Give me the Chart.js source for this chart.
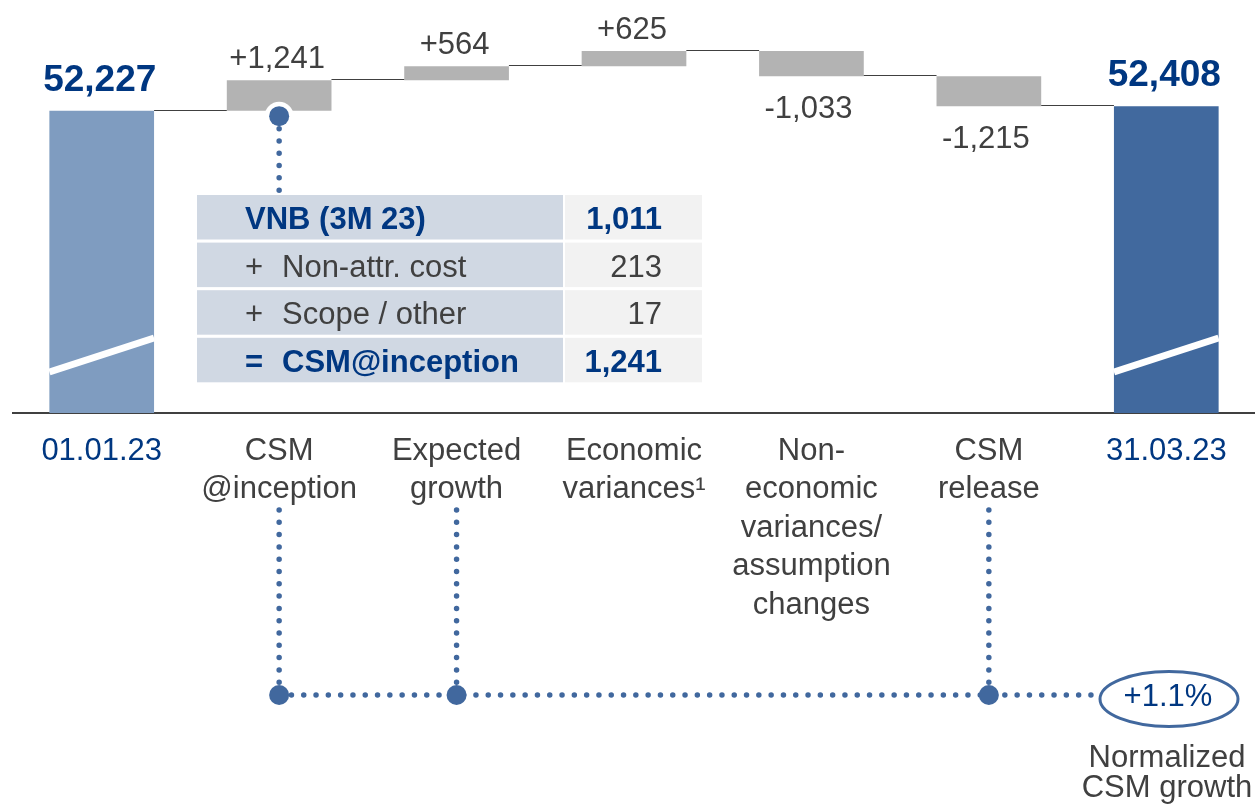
<!DOCTYPE html>
<html>
<head>
<meta charset="utf-8">
<script src="https://cdn.jsdelivr.net/npm/chart.js@4.4.1/dist/chart.umd.min.js"></script>
<style>
  html, body { margin: 0; padding: 0; background: #fff; }
  #wrap { width: 1255px; height: 807px; position: relative; }
</style>
</head>
<body>
<div id="wrap"><canvas id="csmChart"></canvas></div>
<script>
const categories = [
  ['01.01.23'],
  ['CSM', '@inception'],
  ['Expected', 'growth'],
  ['Economic', 'variances¹'],
  ['Non-', 'economic', 'variances/', 'assumption', 'changes'],
  ['CSM', 'release'],
  ['31.03.23']
];
const startValue = 52227;
const endValue = 52408;
const changes = [1241, 564, 625, -1033, -1215];
const valueLabels = ['52,227', '+1,241', '+564', '+625', '-1,033', '-1,215', '52,408'];

const tableSigns = ['', '+', '+', '='];
const tableLabels = ['VNB (3M 23)', 'Non-attr. cost', 'Scope / other', 'CSM@inception'];
const tableValues = ['1,011', '213', '17', '1,241'];
const tableBold = [true, false, false, true];

const growthValue = '+1.1%';
const growthLabel = ['Normalized', 'CSM growth'];
const growthLinks = [1, 2, 5]; // categories that make up normalized growth

// broken axis: bars of the totals start at the axis minimum
const axisMin = 39920;
const axisMax = 56730;

const FONT = "'Liberation Sans', Arial, sans-serif";
const BLUE_TEXT = '#003781';
const GREY_TEXT = '#404040';
const DOT_BLUE = '#41689e';

// build floating bars for the waterfall
const bars = [[axisMin, startValue]];
const levels = [startValue];
let running = startValue;
changes.forEach(c => {
  bars.push([running, running + c]);
  running += c;
  levels.push(running);
});
bars.push([axisMin, endValue]);
levels.push(endValue);

const barColors = bars.map((b, i) => i === 0 ? '#7f9cc0' : (i === bars.length - 1 ? '#41699e' : '#b3b3b3'));

function dotted(ctx, x1, y1, x2, y2) {
  ctx.save();
  ctx.strokeStyle = DOT_BLUE;
  ctx.lineWidth = 5.5;
  ctx.lineCap = 'round';
  ctx.setLineDash([0, 12.3]);
  ctx.beginPath();
  ctx.moveTo(x1, y1);
  ctx.lineTo(x2, y2);
  ctx.stroke();
  ctx.restore();
}

function dot(ctx, x, y, r, color) {
  ctx.fillStyle = color;
  ctx.beginPath();
  ctx.arc(x, y, r, 0, Math.PI * 2);
  ctx.fill();
}

const decorations = {
  id: 'decorations',
  afterDatasetsDraw(chart) {
    const ctx = chart.ctx;
    const els = chart.getDatasetMeta(0).data;
    const y = chart.scales.y;
    const last = els.length - 1;
    ctx.save();

    // axis break stripes on the total bars
    [0, last].forEach(i => {
      const el = els[i];
      const l = el.x - el.width / 2, r = el.x + el.width / 2;
      ctx.strokeStyle = '#ffffff';
      ctx.lineWidth = 7;
      ctx.beginPath();
      ctx.moveTo(l, el.base - 41);
      ctx.lineTo(r, el.base - 75);
      ctx.stroke();
    });

    // connector lines
    ctx.strokeStyle = GREY_TEXT;
    ctx.lineWidth = 1;
    for (let i = 0; i < last; i++) {
      const py = Math.round(y.getPixelForValue(levels[i])) - 0.5;
      ctx.beginPath();
      ctx.moveTo(els[i].x + els[i].width / 2, py);
      ctx.lineTo(els[i + 1].x - els[i + 1].width / 2, py);
      ctx.stroke();
    }

    // value labels
    ctx.textAlign = 'center';
    ctx.textBaseline = 'alphabetic';
    els.forEach((el, i) => {
      const top = Math.min(el.y, el.base);
      const bottom = Math.max(el.y, el.base);
      if (i === 0 || i === last) {
        ctx.font = 'bold 37px ' + FONT;
        ctx.fillStyle = BLUE_TEXT;
        ctx.fillText(valueLabels[i], el.x - 2, top - 20);
      } else {
        ctx.font = '31px ' + FONT;
        ctx.fillStyle = GREY_TEXT;
        if (changes[i - 1] >= 0) ctx.fillText(valueLabels[i], el.x - 2, top - 12);
        else ctx.fillText(valueLabels[i], el.x - 3, bottom + 42);
      }
    });

    // marker under CSM@inception bar with link to the table
    const inc = els[1];
    const incBottom = Math.max(inc.y, inc.base);
    dot(ctx, inc.x, incBottom + 5.5, 14.5, '#ffffff');
    dot(ctx, inc.x, incBottom + 5.5, 10, DOT_BLUE);
    dotted(ctx, inc.x, incBottom + 18, inc.x, 192);

    // breakdown table
    const tx0 = 197, tx1 = 563, tx2 = 565, tx3 = 702;
    tableLabels.forEach((label, r) => {
      const rt = 195 + r * 47.6;
      ctx.fillStyle = '#d0d8e3';
      ctx.fillRect(tx0, rt, tx1 - tx0, 44.5);
      ctx.fillStyle = '#f2f2f2';
      ctx.fillRect(tx2, rt, tx3 - tx2, 44.5);
      const bold = tableBold[r];
      ctx.font = (bold ? 'bold ' : '') + '31px ' + FONT;
      ctx.fillStyle = bold ? BLUE_TEXT : GREY_TEXT;
      ctx.textAlign = 'left';
      const base = rt + 34;
      if (tableSigns[r]) {
        ctx.fillText(tableSigns[r], 245, base);
        ctx.fillText(label, 282, base);
      } else {
        ctx.fillText(label, 245, base);
      }
      ctx.textAlign = 'right';
      ctx.fillText(tableValues[r], 662, base);
    });

    // normalized growth links
    const lineY = 695;
    const ex = 1169, ey = 699, rx = 69, ry = 27.5;
    growthLinks.forEach(i => dotted(ctx, els[i].x, 510, els[i].x, lineY));
    dotted(ctx, els[growthLinks[0]].x, lineY, ex - rx, lineY);
    growthLinks.forEach(i => dot(ctx, els[i].x, lineY, 10, DOT_BLUE));

    ctx.strokeStyle = DOT_BLUE;
    ctx.lineWidth = 3;
    ctx.beginPath();
    ctx.ellipse(ex, ey, rx, ry, 0, 0, Math.PI * 2);
    ctx.fillStyle = '#ffffff';
    ctx.fill();
    ctx.stroke();

    ctx.textAlign = 'center';
    ctx.font = '31px ' + FONT;
    ctx.fillStyle = BLUE_TEXT;
    ctx.fillText(growthValue, ex - 1, 706);
    ctx.fillStyle = GREY_TEXT;
    ctx.fillText(growthLabel[0], 1167, 767);
    ctx.fillText(growthLabel[1], 1167, 797);

    ctx.restore();
  }
};

const ctx = document.getElementById('csmChart').getContext('2d');
const csmChart = new Chart(ctx, {
  type: 'bar',
  data: {
    labels: categories,
    datasets: [{
      data: bars,
      backgroundColor: barColors,
      barPercentage: 0.59,
      categoryPercentage: 1,
      borderWidth: 0
    }]
  },
  options: {
    responsive: true,
    maintainAspectRatio: false,
    animation: false,
    layout: { padding: { left: 13, right: 0, top: 0, bottom: 0 } },
    plugins: {
      legend: { display: false },
      tooltip: { enabled: false }
    },
    scales: {
      x: {
        grid: { display: false, drawTicks: false },
        border: { display: true, color: GREY_TEXT, width: 2 },
        ticks: {
          color: c => (c.index === 0 || c.index === categories.length - 1) ? BLUE_TEXT : GREY_TEXT,
          font: { family: FONT, size: 31, lineHeight: 1.242 },
          padding: 19,
          maxRotation: 0,
          autoSkip: false
        },
        afterFit: s => { s.height = 394; }
      },
      y: {
        display: false,
        min: axisMin,
        max: axisMax
      }
    }
  },
  plugins: [decorations]
});
</script>
</body>
</html>
